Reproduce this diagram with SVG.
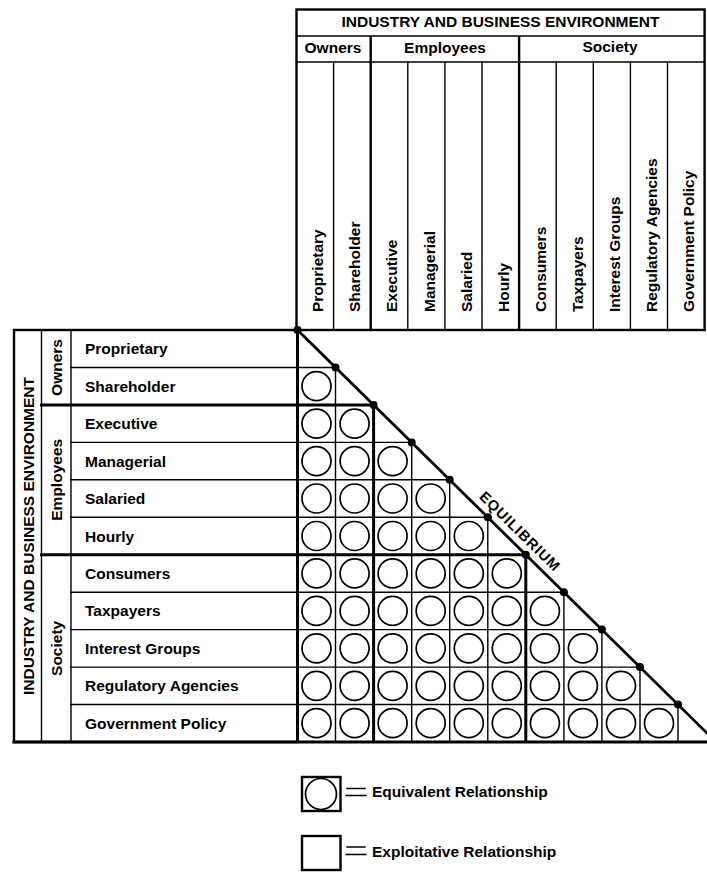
<svg xmlns="http://www.w3.org/2000/svg" width="707" height="881" viewBox="0 0 707 881">
<style>
.ln{stroke:#000;fill:none;stroke-width:1.4;stroke-linecap:square}
.tk{stroke:#000;fill:none;stroke-width:3;stroke-linecap:square}
.fr{stroke:#000;fill:none;stroke-width:2.4}
.ring{stroke:#000;fill:none;stroke-width:1.7}
.dot{fill:#000}
text{font-family:"Liberation Sans",Arial,Helvetica,sans-serif;font-weight:bold;font-size:15.5px;fill:#000}
.mid{text-anchor:middle}
.eq{font-size:14.5px;letter-spacing:1px}
</style>
<defs><circle id="o" r="14.5" class="ring"/></defs>
<rect width="707" height="881" fill="#fff"/>

<g id="top-header">
<rect x="296.5" y="9.5" width="408.1" height="320.5" class="fr"/>
<path class="ln" d="M296.5 36H704.6M296.5 62H704.6"/>
<path class="fr" d="M370.7 36V330M519.1 36V330"/>
<path class="ln" d="M333.6 62V330M407.8 62V330M444.9 62V330M482 62V330M556.2 62V330M593.3 62V330M630.4 62V330M667.5 62V330"/>
<text class="mid" x="500.5" y="27">INDUSTRY AND BUSINESS ENVIRONMENT</text>
<text class="mid" x="333" y="52.5">Owners</text>
<text class="mid" x="445" y="52.5">Employees</text>
<text class="mid" x="610" y="52">Society</text>
<text transform="translate(323,312) rotate(-90)">Proprietary</text>
<text transform="translate(360,312) rotate(-90)">Shareholder</text>
<text transform="translate(397,312) rotate(-90)">Executive</text>
<text transform="translate(434.5,312) rotate(-90)">Managerial</text>
<text transform="translate(471.5,312) rotate(-90)">Salaried</text>
<text transform="translate(508.5,312) rotate(-90)">Hourly</text>
<text transform="translate(545.5,312) rotate(-90)">Consumers</text>
<text transform="translate(583,312) rotate(-90)">Taxpayers</text>
<text transform="translate(620,312) rotate(-90)">Interest Groups</text>
<text transform="translate(657,312) rotate(-90)">Regulatory Agencies</text>
<text transform="translate(694,312) rotate(-90)">Government Policy</text>
</g>

<g id="left-header">
<rect x="14" y="330" width="283.5" height="412" class="fr"/>
<path class="ln" d="M41.5 330V742M71 330V742"/>
<path class="ln" d="M71 367.5H297.5M71 442.4H297.5M71 479.8H297.5M71 517.3H297.5M71 592.2H297.5M71 629.6H297.5M71 667.1H297.5M71 704.5H297.5"/>
<path class="tk" d="M41.5 404.9H297.5M41.5 554.7H297.5"/>
<text class="mid" transform="translate(33.5,536) rotate(-90)">INDUSTRY AND BUSINESS ENVIRONMENT</text>
<text class="mid" transform="translate(62,367.5) rotate(-90)">Owners</text>
<text class="mid" transform="translate(62,479.8) rotate(-90)">Employees</text>
<text class="mid" transform="translate(62,648.4) rotate(-90)">Society</text>
<text x="85" y="354.2">Proprietary</text>
<text x="85" y="391.7">Shareholder</text>
<text x="85" y="429.2">Executive</text>
<text x="85" y="466.6">Managerial</text>
<text x="85" y="504">Salaried</text>
<text x="85" y="541.5">Hourly</text>
<text x="85" y="578.9">Consumers</text>
<text x="85" y="616.4">Taxpayers</text>
<text x="85" y="653.8">Interest Groups</text>
<text x="85" y="691.3">Regulatory Agencies</text>
<text x="85" y="728.7">Government Policy</text>
</g>

<g id="matrix">
<path class="ln" d="M297.5 367.5H335.5M297.5 442.4H411.7M297.5 479.8H449.7M297.5 517.3H487.8M297.5 592.2H563.9M297.5 629.6H601.9M297.5 667.1H640M297.5 704.5H678"/>
<path class="ln" d="M335.5 367.5V742M411.7 442.4V742M449.7 479.8V742M487.8 517.3V742M563.9 592.2V742M601.9 629.6V742M640 667.1V742M678 704.5V742"/>
<path class="tk" d="M297.5 404.9H373.6M297.5 554.7H525.8M297.5 330V742M373.6 404.9V742M525.8 554.7V742M14 742H707"/>
<g id="equivalent-cells">
<use href="#o" x="316.5" y="386.2"/>
<use href="#o" x="316.5" y="423.7"/><use href="#o" x="354.6" y="423.7"/>
<use href="#o" x="316.5" y="461.1"/><use href="#o" x="354.6" y="461.1"/><use href="#o" x="392.6" y="461.1"/>
<use href="#o" x="316.5" y="498.5"/><use href="#o" x="354.6" y="498.5"/><use href="#o" x="392.6" y="498.5"/><use href="#o" x="430.7" y="498.5"/>
<use href="#o" x="316.5" y="536"/><use href="#o" x="354.6" y="536"/><use href="#o" x="392.6" y="536"/><use href="#o" x="430.7" y="536"/><use href="#o" x="468.8" y="536"/>
<use href="#o" x="316.5" y="573.4"/><use href="#o" x="354.6" y="573.4"/><use href="#o" x="392.6" y="573.4"/><use href="#o" x="430.7" y="573.4"/><use href="#o" x="468.8" y="573.4"/><use href="#o" x="506.8" y="573.4"/>
<use href="#o" x="316.5" y="610.9"/><use href="#o" x="354.6" y="610.9"/><use href="#o" x="392.6" y="610.9"/><use href="#o" x="430.7" y="610.9"/><use href="#o" x="468.8" y="610.9"/><use href="#o" x="506.8" y="610.9"/><use href="#o" x="544.9" y="610.9"/>
<use href="#o" x="316.5" y="648.3"/><use href="#o" x="354.6" y="648.3"/><use href="#o" x="392.6" y="648.3"/><use href="#o" x="430.7" y="648.3"/><use href="#o" x="468.8" y="648.3"/><use href="#o" x="506.8" y="648.3"/><use href="#o" x="544.9" y="648.3"/><use href="#o" x="582.9" y="648.3"/>
<use href="#o" x="316.5" y="685.8"/><use href="#o" x="354.6" y="685.8"/><use href="#o" x="392.6" y="685.8"/><use href="#o" x="430.7" y="685.8"/><use href="#o" x="468.8" y="685.8"/><use href="#o" x="506.8" y="685.8"/><use href="#o" x="544.9" y="685.8"/><use href="#o" x="582.9" y="685.8"/><use href="#o" x="621" y="685.8"/>
<use href="#o" x="316.5" y="723.2"/><use href="#o" x="354.6" y="723.2"/><use href="#o" x="392.6" y="723.2"/><use href="#o" x="430.7" y="723.2"/><use href="#o" x="468.8" y="723.2"/><use href="#o" x="506.8" y="723.2"/><use href="#o" x="544.9" y="723.2"/><use href="#o" x="582.9" y="723.2"/><use href="#o" x="621" y="723.2"/><use href="#o" x="659" y="723.2"/>
</g>
</g>

<g id="connectors">
<line x1="297.5" y1="330" x2="716" y2="742" stroke="#000" stroke-width="2.8"/>
<circle class="dot" cx="297.5" cy="330" r="4"/>
<circle class="dot" cx="335.5" cy="367.5" r="4"/>
<circle class="dot" cx="373.6" cy="404.9" r="4"/>
<circle class="dot" cx="411.7" cy="442.4" r="4"/>
<circle class="dot" cx="449.7" cy="479.8" r="4"/>
<circle class="dot" cx="487.8" cy="517.3" r="4"/>
<circle class="dot" cx="525.8" cy="554.7" r="4"/>
<circle class="dot" cx="563.9" cy="592.2" r="4"/>
<circle class="dot" cx="601.9" cy="629.6" r="4"/>
<circle class="dot" cx="640" cy="667.1" r="4"/>
<circle class="dot" cx="678" cy="704.5" r="4"/>
<text class="eq" transform="translate(478.5,497.5) rotate(44.58)">EQUILIBRIUM</text>
</g>

<g id="legend-equivalent">
<rect x="302" y="777" width="38.5" height="34" class="fr" stroke-width="1.8"/>
<circle cx="321" cy="794" r="15.5" class="ring"/>
<path class="ln" stroke-width="1.8" d="M347 788.5H365M346 795.5H366"/>
<text x="372" y="797">Equivalent Relationship</text>
</g>
<g id="legend-exploitative">
<rect x="302" y="836" width="38.5" height="34" class="fr" stroke-width="1.8"/>
<path class="ln" stroke-width="1.8" d="M347 847H365M346 854.5H366"/>
<text x="372" y="857">Exploitative Relationship</text>
</g>
</svg>
